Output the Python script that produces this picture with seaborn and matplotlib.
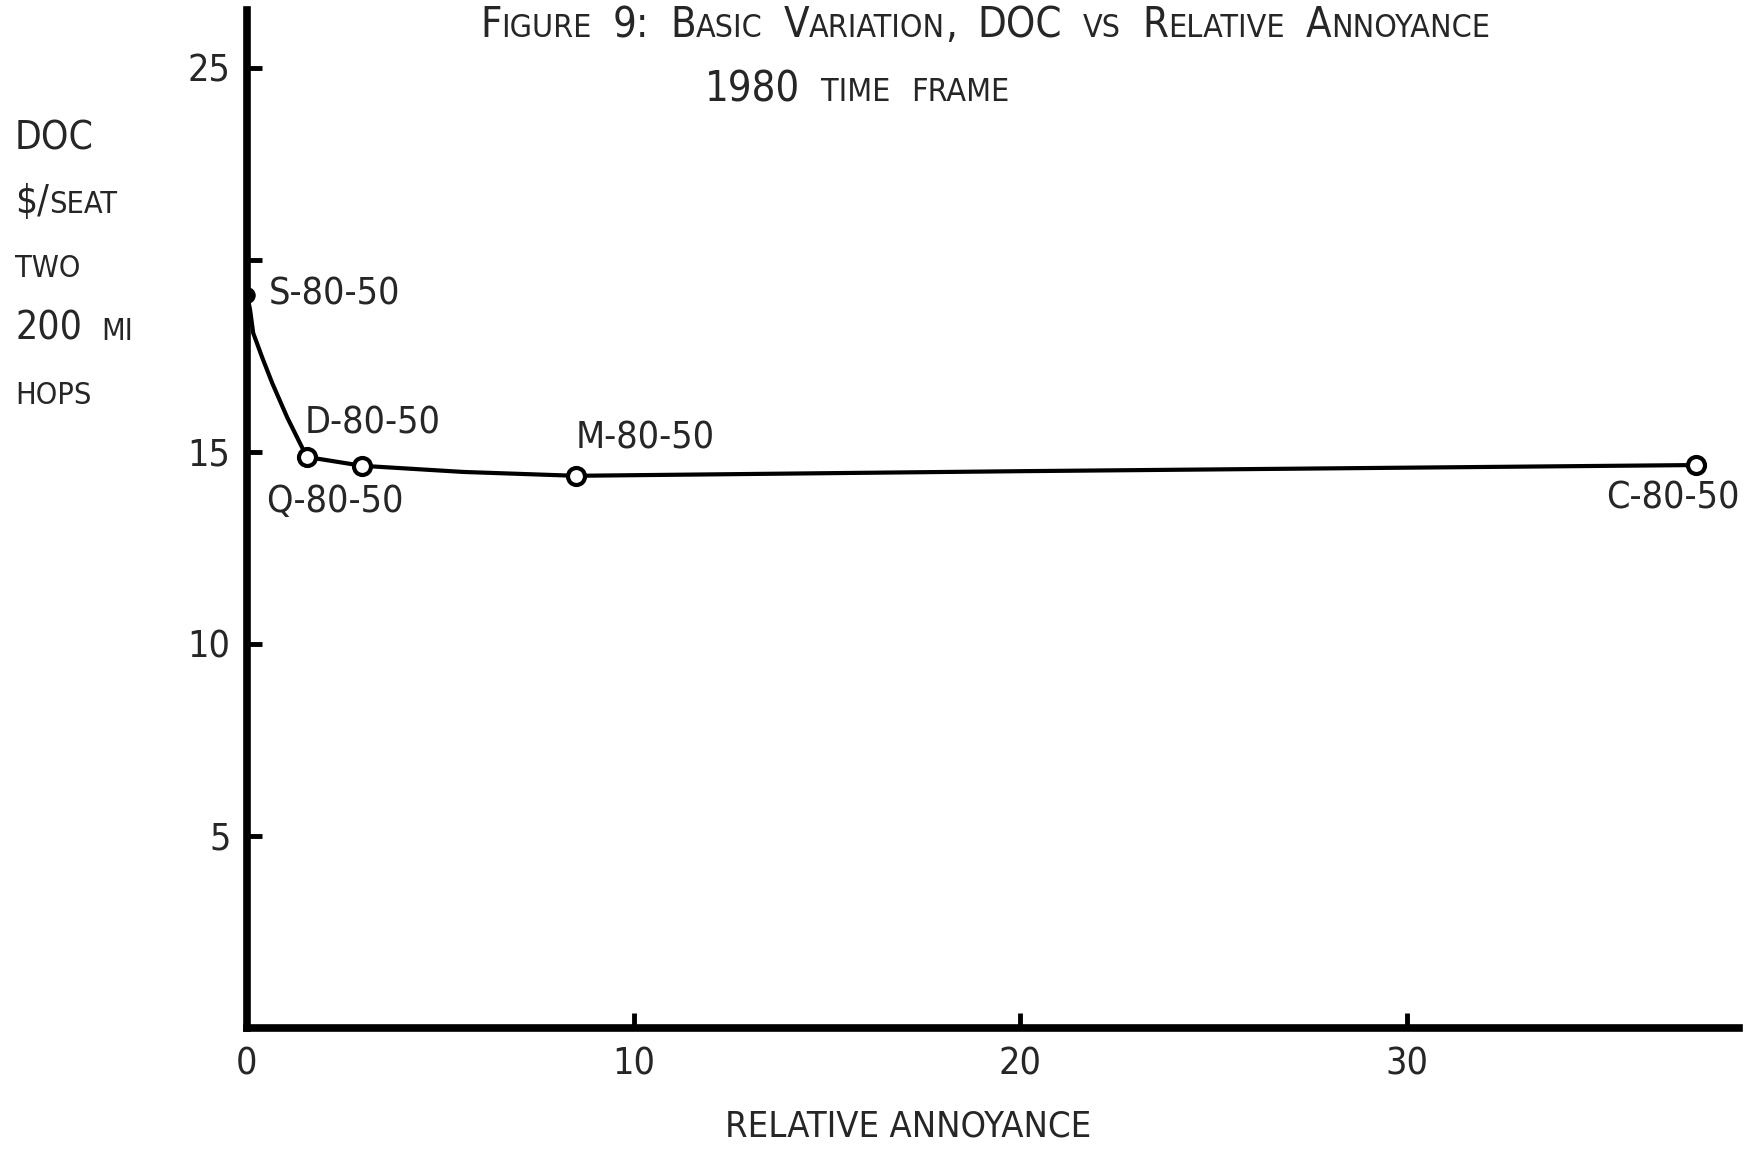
import matplotlib
matplotlib.use('Agg')
import pandas as pd
import seaborn as sns
from matplotlib import pyplot as plt
from matplotlib.transforms import IdentityTransform

# values
designs = ["S-80-50", "D-80-50", "Q-80-50", "M-80-50", "C-80-50"]
annoyance = [0.0, 1.55, 2.98, 8.5, 37.5]
doc = [19.1, 14.87, 14.64, 14.38, 14.66]
open_marker = [False, True, True, True, True]

# the hand drawn curve
curve_x = [0.0, 0.08, 0.16, 0.39, 0.65, 1.04, 1.37, 1.55, 2.98, 5.6, 8.5, 20.0, 37.5]
curve_y = [19.1, 18.7, 18.1, 17.47, 16.8, 15.9, 15.23, 14.87, 14.64, 14.48, 14.38, 14.5, 14.66]

x_ticks = [0, 10, 20, 30]
y_ticks = [5, 10, 15, 20, 25]
y_tick_labels = ["5", "10", "15", "", "25"]

pts = pd.DataFrame({"design": designs, "x": annoyance, "y": doc, "open": open_marker})
curve = pd.DataFrame({"x": curve_x, "y": curve_y})

sns.set_style("ticks")
plt.rcParams['font.family'] = ['DejaVu Sans']
plt.rcParams['font.stretch'] = 'condensed'
BIG = 27
SMALL = 21

fig = plt.figure(figsize=(17.58, 11.54), dpi=100)
ax = fig.add_axes([0.1405, 0.1092, 0.8487, 0.8818])

sns.lineplot(data=curve, x="x", y="y", sort=False, estimator=None,
             color="black", linewidth=3, ax=ax)
sns.scatterplot(data=pts[~pts["open"]], x="x", y="y", color="black",
                s=120, edgecolor="black", zorder=5, ax=ax)
sns.scatterplot(data=pts[pts["open"]], x="x", y="y", color="white",
                s=150, edgecolor="black", linewidth=3, zorder=5, ax=ax)

# label offsets in points, matching the hand lettering
offsets = {"S-80-50": (16, 0, "left"), "D-80-50": (-1.5, 24, "left"),
           "Q-80-50": (-69, -26, "left"), "M-80-50": (0, 27, "left"),
           "C-80-50": (31, -24, "right")}
for _, row in pts.iterrows():
    dx, dy, ha = offsets[row["design"]]
    ax.annotate(row["design"], (row["x"], row["y"]), xytext=(dx, dy),
                textcoords="offset points", ha=ha, va="center", fontsize=BIG)

ax.set_xlim(0, 38.6)
ax.set_ylim(0, 26.5)
ax.set_xticks(x_ticks)
ax.set_yticks(y_ticks)
ax.set_yticklabels(y_tick_labels)
ax.tick_params(direction="in", length=11, width=3.5, labelsize=BIG, color="black")
ax.tick_params(axis="x", pad=13)
ax.tick_params(axis="y", pad=12)
sns.despine(ax=ax)
for side in ["left", "bottom"]:
    ax.spines[side].set_linewidth(5.5)
    ax.spines[side].set_color("black")
ax.set_xlabel("RELATIVE ANNOYANCE", fontsize=26, labelpad=20, x=0.443)
ax.set_ylabel("")


def small_caps(text, x, y, ha="left", big=BIG, small=SMALL, gap=0.28):
    """lower case letters are drawn as small capitals; x, y in pixels from top left"""
    rend = fig.canvas.get_renderer()
    gap_px = gap * big * fig.dpi / 72
    arts = []
    cursor = 0
    for i, word in enumerate(text.split(" ")):
        if i:
            cursor += gap_px
        runs = []
        for ch in word:
            low = ch.islower()
            if runs and runs[-1][1] == low:
                runs[-1][0] += ch
            else:
                runs.append([ch, low])
        for s, low in runs:
            t = fig.text(0, 0, s.upper(), fontsize=small if low else big,
                         va="baseline", ha="left", transform=IdentityTransform())
            w = t.get_window_extent(rend).width
            arts.append((t, cursor))
            cursor += w
    shift = -cursor / 2 if ha == "center" else 0
    H = fig.get_figheight() * fig.dpi
    for t, c in arts:
        t.set_position((x + c + shift, H - y))


small_caps("Figure 9: Basic Variation, DOC vs Relative Annoyance", 985, 37,
           ha="center", big=30, small=23, gap=0.5)
small_caps("1980 time frame", 857, 101, ha="center", big=30, small=23, gap=0.5)
for line, base in zip(["DOC", "$/seat", "two", "200 mi", "hops"],
                      [149, 213, 277, 340, 404]):
    small_caps(line, 15, base, big=28, small=22, gap=0.5)

fig.savefig("out.png", dpi=100)
